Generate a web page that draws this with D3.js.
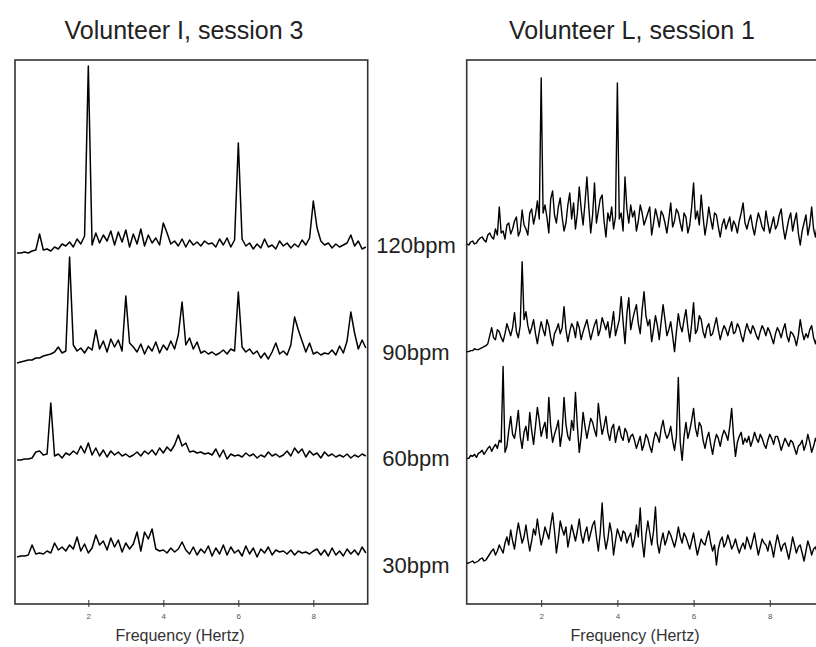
<!DOCTYPE html>
<html>
<head>
<meta charset="utf-8">
<script src="https://cdn.jsdelivr.net/npm/d3@7"></script>
<style>
  body { margin: 0; background: #fff; }
  svg { display: block; font-family: "Liberation Sans", Arial, sans-serif; }
</style>
</head>
<body>
<svg id="chart" width="816" height="647"></svg>
<script>
// frequency bins (Hz): 0.1 Hz for volunteer I, 0.05 Hz for volunteer L
const freqsI = d3.range(1, 95).map(i => i / 10);
const freqsL = d3.range(1, 189).map(i => i / 20);
const rows = ["120bpm", "90bpm", "60bpm", "30bpm"];
const tickFreqs = [2, 4, 6, 8];

// Volunteer I, session 3 - relative power above each row baseline
const volI120 = [0,0,1,0,2,3,19,3,4,2, 6,4,9,7,11,6,14,9,17,187, 8,20,10,18,12,22,8,21,11,23,
  6,19,9,24,7,18,10,15,8,30, 20,9,12,7,14,6,13,8,11,7, 12,9,10,6,14,8,15,6,13,110,
  14,7,10,4,9,5,14,6,8,4, 12,7,10,5,9,6,13,8,15,52, 25,12,8,10,5,9,6,8,10,18, 7,12,4,6];
const volI90 = [-8,-7,-6,-5,-5,-3,-3,-1,0,1, 3,8,2,4,98,10,4,7,2,8, 5,25,6,14,3,16,8,15,4,59,
  12,8,3,11,1,9,4,13,2,10, 5,14,6,20,53,10,17,6,13,2, 4,1,3,0,2,5,1,6,4,63,
  8,3,6,1,4,-3,2,-4,3,12, 1,4,0,10,38,25,14,3,12,1, 3,0,2,1,5,0,9,2,14,43, 22,6,15,7];
const volI60 = [-3,-3,-2,-2,-1,5,6,2,3,54, 1,3,-1,4,2,6,3,11,4,14, 2,9,1,7,0,6,2,5,1,3,
  0,2,5,1,6,3,7,2,9,4, 10,6,12,22,11,14,5,6,4,5, 3,4,2,8,0,7,-2,3,1,2,
  0,4,1,3,-1,2,0,5,1,3, 0,2,6,1,9,4,8,0,6,2, 4,-1,5,1,3,0,2,0,3,-1, 2,0,3,1];
const volI30 = [2,3,3,4,14,5,6,5,8,6, 16,9,12,8,14,10,22,8,15,6, 11,24,14,18,9,21,12,19,7,16,
  10,15,27,8,27,20,30,10,8,9, 6,11,7,10,17,9,5,12,4,10, 6,13,3,11,5,14,4,12,6,9,
  3,13,5,11,2,10,6,12,4,9, 7,8,5,9,4,8,6,7,5,8, 10,4,9,3,11,4,8,3,10,5, 9,4,12,6];

// Volunteer L, session 1 (one value every 0.05 Hz)
const volL120 = [-1,-2,1,2,-1,0,3,5,6,3, 1,8,10,6,4,14,8,36,10,12,
  4,18,20,9,14,22,26,7,12,33, 18,14,8,30,34,19,28,42,24,165,
  30,38,26,10,44,52,28,20,36,45, 26,12,20,38,50,24,40,14,30,56,
  34,18,40,66,36,10,28,60,20,32, 44,48,22,6,30,22,36,14,26,160,
  24,30,12,66,34,20,38,26,32,12, 22,38,30,18,24,30,36,8,20,34,
  26,16,32,28,20,10,24,40,16,22, 34,30,20,12,30,26,10,18,36,60,
  24,32,18,48,26,8,20,36,24,14, 30,28,16,6,18,24,14,20,26,12,
  22,18,10,22,30,40,20,14,22,28, 16,8,20,30,24,16,12,32,20,10,
  18,26,14,18,28,34,16,4,14,24, 30,12,22,30,10,-2,12,20,28,8,
  18,36,14,6,20,14,4,2];
const volL90 = [-2,-2,-1,-1,1,0,0,1,2,3, 4,6,14,22,12,10,20,18,12,8,
  16,26,20,14,22,37,18,12,24,88, 30,38,24,16,22,30,16,6,18,28,
  20,14,30,24,12,4,16,20,26,16, 22,43,20,8,18,26,22,12,28,22,
  10,18,24,30,20,10,18,25,30,14, 20,32,26,20,28,12,24,38,14,22,
  30,53,28,6,36,52,20,30,38,45, 26,16,40,58,34,24,30,8,20,34,
  24,10,28,45,30,14,20,28,14,-2, 18,36,24,18,30,40,22,8,26,47,
  16,20,34,30,18,12,22,26,14,16, 24,32,20,10,18,24,20,14,22,28,
  16,18,26,22,14,8,18,26,20,16, 24,20,14,10,18,24,20,14,22,18,
  12,6,16,22,18,12,20,26,14,8, 18,16,12,4,14,30,18,10,16,12,
  20,24,12,6,14,18,12,10];
const volL60 = [-2,-2,1,0,2,-1,3,4,6,2, 5,8,10,5,9,12,8,16,14,90,
  4,10,26,40,22,18,30,46,20,8, 24,30,16,44,26,12,30,49,36,20,
  28,34,18,59,30,14,22,28,36,10, 24,59,32,20,16,36,26,64,30,4,
  20,44,30,18,28,38,34,26,20,53, 36,22,30,40,24,16,28,32,14,24,
  30,20,16,28,24,14,20,22,16,8, 14,20,6,12,22,18,10,4,16,24,
  20,14,28,36,24,18,22,30,16,6, 20,79,14,-4,20,34,18,26,36,48,
  28,20,34,30,16,8,18,24,12,2, 14,22,18,10,20,26,22,16,30,48,
  20,0,14,20,24,12,18,14,20,10, 16,24,18,14,22,18,12,8,16,22,
  18,12,20,20,14,6,12,18,14,10, 16,14,8,2,10,12,16,6,12,22,
  14,4,10,18,12,8,16,14];
const volL30 = [0,0,1,2,0,1,2,4,5,2, 3,6,9,12,14,8,12,18,14,10,
  20,26,18,33,22,14,28,40,30,20, 26,38,24,12,22,34,28,44,30,18,
  26,36,30,24,38,50,32,10,24,42, 34,28,36,16,26,38,30,22,32,44,
  28,20,30,36,22,30,38,42,26,12, 30,60,28,14,24,40,30,8,22,34,
  28,22,32,30,20,26,30,16,24,38, 26,55,22,6,28,42,30,18,32,56,
  20,10,22,30,18,24,32,28,22,16, 24,36,26,20,30,26,20,14,22,30,
  18,8,16,24,20,18,26,32,20,12, 18,-2,14,22,26,16,20,28,22,14,
  18,24,16,10,16,20,14,26,20,14, 22,30,18,8,16,24,20,18,12,22,
  16,6,18,28,20,12,18,20,12,4, 14,26,18,10,16,18,10,2,12,22,
  16,8,14,16,10,4,12,14];

const panels = [
  { title: "Volunteer I, session 3", titleX: 184, x0: 15, x1: 367.7, freqs: freqsI,
    series: [volI120, volI90, volI60, volI30], rowRange: [253, 559], axisTitleX: 180, stroke: 1.5 },
  { title: "Volunteer L, session 1", titleX: 632, x0: 466.7, x1: 825, freqs: freqsL,
    series: [volL120, volL90, volL60, volL30], rowRange: [243, 563], axisTitleX: 635, stroke: 1.4 }
];

const frameTop = 60, frameBottom = 604;
const svg = d3.select("#chart");

// amplitude -> pixel offset from the row baseline
const amp = d3.scaleLinear().domain([0, 100]).range([0, -100]);

panels.forEach(p => {
  const x = d3.scaleLinear().domain([0.045, 9.45]).range([p.x0, p.x1]);
  const row = d3.scalePoint().domain(rows).range(p.rowRange);
  p.row = row;

  const g = svg.append("g");

  // frame
  g.append("rect")
    .attr("x", p.x0).attr("y", frameTop)
    .attr("width", p.x1 - p.x0).attr("height", frameBottom - frameTop)
    .attr("fill", "none").attr("stroke", "#333").attr("stroke-width", 1.6);

  // spectra
  rows.forEach((r, k) => {
    const line = d3.line()
      .x((d, i) => x(p.freqs[i]))
      .y(d => row(r) + amp(d));
    g.append("path")
      .datum(p.series[k])
      .attr("d", line)
      .attr("fill", "none")
      .attr("stroke", "#000")
      .attr("stroke-width", p.stroke)
      .attr("stroke-linejoin", "round");
  });

  // axis ticks crossing the bottom line
  const axis = g.append("g")
    .attr("transform", `translate(0,${frameBottom})`)
    .call(d3.axisBottom(x).tickValues(tickFreqs).tickSize(4).tickPadding(5));
  axis.select(".domain").remove();
  axis.selectAll(".tick line").attr("y1", -4).attr("y2", 3).attr("stroke", "#333");
  axis.selectAll(".tick text").attr("font-size", 8).attr("fill", "#555")
    .attr("font-family", "Liberation Sans, Arial, sans-serif");

  // titles
  svg.append("text")
    .attr("x", p.titleX).attr("y", 39)
    .attr("text-anchor", "middle")
    .attr("font-size", 25).attr("fill", "#222")
    .text(p.title);

  svg.append("text")
    .attr("x", p.axisTitleX).attr("y", 641)
    .attr("text-anchor", "middle")
    .attr("font-size", 16).attr("fill", "#333")
    .text("Frequency (Hertz)");
});

// row labels between the panels, aligned with the right-hand rows
rows.forEach(r => {
  svg.append("text")
    .attr("x", 416).attr("y", panels[1].row(r) + 10)
    .attr("text-anchor", "middle")
    .attr("font-size", 22).attr("fill", "#222")
    .text(r);
});
</script>
</body>
</html>
